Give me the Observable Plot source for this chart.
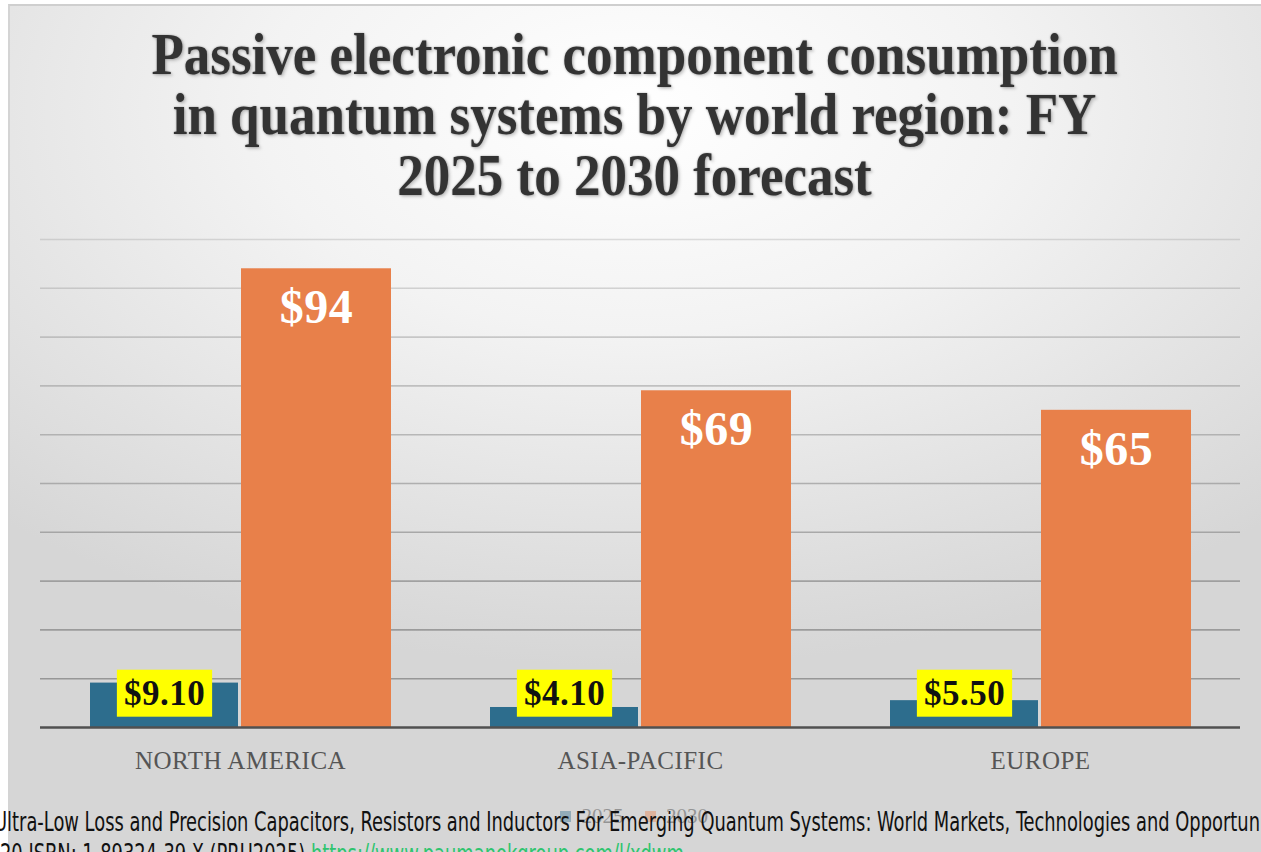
<!DOCTYPE html>
<html><head><meta charset="utf-8">
<script src="https://cdn.jsdelivr.net/npm/d3@7"></script>
<script src="https://cdn.jsdelivr.net/npm/@observablehq/plot@0.6"></script>
<style>
html,body{margin:0;padding:0;width:1261px;height:852px;overflow:hidden;background:#fff;}
#frame{position:absolute;left:8px;top:4px;width:1253px;height:860px;
  background:radial-gradient(ellipse 75% 65% at 50% 12%, #ffffff 0%, #f3f3f3 40%, #e2e2e2 75%, #d6d6d6 100%);
  border-top:2px solid #cfcfcf;border-left:2px solid #d4d4d4;box-sizing:border-box;}
#title{position:absolute;left:8px;top:24px;width:1253px;text-align:center;margin:0;
  font-family:"Liberation Serif","Times New Roman",serif;font-weight:bold;font-size:53px;line-height:55px;color:#333;
  transform:scaleY(1.1);transform-origin:50% 0;
  text-shadow:0 0 2px rgba(0,0,0,0.35),2px 2px 3px rgba(0,0,0,0.18);}
#chart{position:absolute;left:0;top:200px;}
#legend{position:absolute;left:560px;top:800px;opacity:0.4;}
#legend, #legend *{font-size:21px !important;font-family:"Liberation Serif",serif !important;color:#333 !important;}
.cap{position:absolute;white-space:nowrap;font-family:"DejaVu Sans Condensed","DejaVu Sans",sans-serif;font-size:27px;line-height:27px;color:#111;transform-origin:0 0;}
#cap1{top:808px;}
#cap2{top:840px;}
#cap2 .url{color:#2fc46e;}
</style></head>
<body>
<div id="frame"></div>
<div id="title">Passive electronic component consumption<br>in quantum systems by world region: FY<br>2025 to 2030 forecast</div>
<div id="chart"></div>
<div id="legend"></div>
<div id="cap1" class="cap"><span id="cap1pre">Ultra-Low Loss and Precision Capacitors, Resistors and Inductors For Emerging Quantum Systems: World Markets, Technologies and Opportun</span>ities</div>
<div id="cap2" class="cap">20 ISBN: 1-89324-39-X (PRU2025) <span class="url">https://www.paumanokgroup.com/l/xdwm</span></div>
<script>
const regions = ["NORTH AMERICA", "ASIA-PACIFIC", "EUROPE"];
const years = ["2025", "2030"];
const v2025 = [9.1, 4.1, 5.5];
const v2030 = [94, 69, 65];
const gridTicks = [10, 20, 30, 40, 50, 60, 70, 80, 90, 100];
const colors = ["#2d6d8d", "#e8804a"];

const rows25 = regions.map((r, i) => ({region: r, year: years[0], value: v2025[i]}));
const rows30 = regions.map((r, i) => ({region: r, year: years[1], value: v2030[i]}));

const plot = Plot.plot({
  width: 1261,
  height: 580,
  marginLeft: 40,
  marginRight: 21,
  marginTop: 39,
  marginBottom: 53,
  style: {background: "transparent", fontFamily: "Liberation Serif, Times New Roman, serif", fontSize: "25px", color: "#555", letterSpacing: "0.5px"},
  x: {domain: regions, paddingInner: 0.25, paddingOuter: 0.125, axis: "bottom", tickSize: 0, tickPadding: 24, label: null},
  y: {domain: [0, 100], axis: null},
  color: {domain: years, range: colors},
  marks: [
    Plot.ruleY(gridTicks, {stroke: "#8a8a8a", strokeWidth: 1.6, strokeOpacity: d => 0.9 - d / 160}),
    Plot.barY(rows25, {x: "region", y: "value", fill: "year", insetRight: 152}),
    Plot.barY(rows30, {x: "region", y: "value", fill: "year", insetLeft: 151, insetRight: -1}),
    Plot.ruleY([0], {stroke: "#505050", strokeWidth: 2.5}),
    Plot.text(rows25, {x: "region", frameAnchor: "bottom", dx: -76, dy: -34, text: d => "$" + d.value.toFixed(2),
      fill: "#111", fontSize: 35, fontWeight: "bold", lineAnchor: "middle", className: "lbl25"}),
    Plot.text(rows30, {x: "region", y: "value", dx: 76, dy: 39, text: d => "$" + d.value,
      fill: "#fff", fontSize: 48, fontWeight: "bold", lineAnchor: "middle"})
  ]
});
document.getElementById("chart").append(plot);

// yellow label boxes behind the 2025 values
d3.select(plot).selectAll("g.lbl25 text").each(function() {
  const b = this.getBBox();
  const padX = 7, padY = 4;
  const rect = document.createElementNS("http://www.w3.org/2000/svg", "rect");
  rect.setAttribute("x", b.x - padX);
  rect.setAttribute("y", b.y - padY);
  rect.setAttribute("width", b.width + 2 * padX);
  rect.setAttribute("height", b.height + 2 * padY);
  rect.setAttribute("fill", "#ffff00");
  const t = this.getAttribute("transform");
  if (t) rect.setAttribute("transform", t);
  this.parentNode.insertBefore(rect, this);
});

const leg = plot.legend("color", {swatchSize: 11});
document.getElementById("legend").append(leg);

// condensed caption scaling
const pre = document.getElementById("cap1pre").getBoundingClientRect().width;
const s = 1266 / pre;
document.getElementById("cap1").style.transform = `scaleX(${s})`;
document.getElementById("cap1").style.left = "-6px";
document.getElementById("cap2").style.transform = `scaleX(${s})`;
document.getElementById("cap2").style.left = "0px";
</script>
</body></html>
